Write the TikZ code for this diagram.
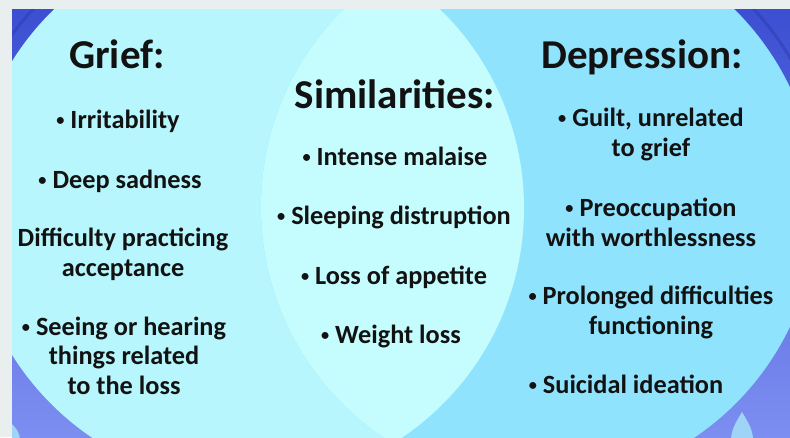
\documentclass[tikz,border=0pt]{standalone}
\usepackage{fontspec}
\setmainfont{Carlito}
\definecolor{framegray}{HTML}{E9EEEF}
\definecolor{bgtop}{HTML}{3C4FD2}
\definecolor{bgbottom}{HTML}{7D8EF1}
\definecolor{bgline}{HTML}{2C3CB0}
\definecolor{griefcol}{HTML}{B6F6FC}
\definecolor{depcol}{HTML}{8FE3FD}
\definecolor{lenscol}{HTML}{C5FDFE}
\definecolor{dropcol}{HTML}{9FD4F8}
\definecolor{ink}{HTML}{121212}
% a small round bullet
\newcommand{\bul}{\raisebox{0.11em}{\scalebox{0.62}{•}}}
\begin{document}
\begin{tikzpicture}[x=1pt,y=-1pt,
  heading/.style={font=\fontsize{41}{44}\selectfont\bfseries, text=ink, inner sep=0pt, anchor=base},
  item/.style={font=\fontsize{26.3}{29.5}\selectfont\bfseries, text=ink, inner sep=0pt, align=center, anchor=base},
]
% page and frame
\fill[framegray] (0,0) rectangle (790,437);
\useasboundingbox (0,0) rectangle (790,437);
\begin{scope}
  \clip (12,9) rectangle (790,437);
  \shade[top color=bgtop, bottom color=bgbottom] (12,9) rectangle (790,437);
  % soft swooshes in the upper corners of the backdrop
  \begin{scope}
    \clip (12,9) rectangle (790,90);
    \draw[bgline, line width=3pt, opacity=0.5] (247,208) circle[radius=292];
    \draw[bgline, line width=3pt, opacity=0.5] (539,207) circle[radius=292];
  \end{scope}
  % light drops at the lower edge
  \fill[dropcol] (742,412) .. controls (748,422) and (753,430) .. (753,440)
                 -- (731,440) .. controls (731,430) and (736,422) .. (742,412) -- cycle;
  \fill[dropcol] (12,424) .. controls (16,428) and (20,433) .. (20,440) -- (12,440) -- cycle;
  % the two sets and their overlap
  \fill[griefcol] (247,208) circle[radius=277];
  \fill[depcol] (539,207) circle[radius=278];
  \begin{scope}
    \clip (247,208) circle[radius=277];
    \fill[lenscol] (539,207) circle[radius=278];
  \end{scope}
\end{scope}

% grief column (multi-line nodes sit on their last baseline)
\node[heading] (griefT) at (117,68) {Grief:};
\node[item] (g1) at (118,128) {\bul\ Irritability};
\node[item] (g2) at (120,188) {\bul\ Deep sadness};
\node[item] (g3) at (123,276) {Difficulty practicing\\acceptance};
\node[item] (g4) at (124,394) {\bul\ Seeing or hearing\\things related\\to the loss};

% overlap column
\node[heading] (simT) at (395,108) {Similarities:};
\node[item] (s1) at (395,165) {\bul\ Intense malaise};
\node[item] (s2) at (394,224) {\bul\ Sleeping distruption};
\node[item] (s3) at (394,284) {\bul\ Loss of appetite};
\node[item] (s4) at (391,343) {\bul\ Weight loss};

% depression column
\node[heading] (depT) at (642,68) {Depression:};
\node[item] (d1) at (651,156) {\bul\ Guilt, unrelated\\to grief};
\node[item] (d2) at (651,246) {\bul\ Preoccupation\\with worthlessness};
\node[item] (d3) at (651,334) {\bul\ Prolonged difficulties\\functioning};
\node[item] (d4) at (626,393) {\bul\ Suicidal ideation};
\end{tikzpicture}
\end{document}
